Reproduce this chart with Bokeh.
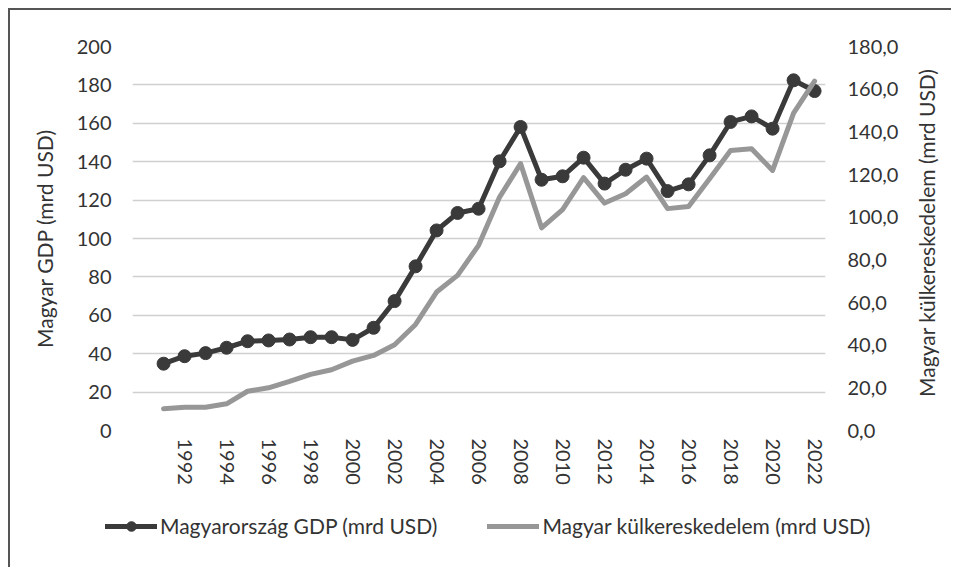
import math
from bokeh.plotting import figure
from bokeh.layouts import column, row
from bokeh.models import (Range1d, LinearAxis, FixedTicker, CustomJSTickFormatter,
                          Legend, LegendItem, Label)
from bokeh.embed import file_html
from bokeh.resources import INLINE

# ---- data ----
years = list(range(1991, 2023))
gdp = [34.8, 38.7, 40.3, 43.1, 46.5, 46.9, 47.4, 48.6, 48.6, 47.2,
       53.5, 67.4, 85.5, 104.2, 113.3, 115.5, 140.2, 158.1, 130.6, 132.4,
       142.1, 128.6, 135.8, 141.6, 124.7, 128.2, 143.3, 160.7, 163.6, 157.2,
       182.4, 176.8]
trade = [10.2, 10.9, 10.9, 12.5, 18.4, 20.0, 23.0, 26.3, 28.5, 32.5,
         35.2, 40.2, 49.7, 64.9, 72.7, 86.8, 109.4, 125.1, 95.0, 103.5,
         118.5, 106.6, 111.0, 118.8, 104.0, 105.0, 118.0, 131.3, 132.1, 121.9,
         148.8, 163.8]
x_ticks = list(range(1992, 2023, 2))
left_ticks = list(range(0, 201, 20))
right_ticks = list(range(0, 181, 20))
gdp_label = "Magyarország GDP (mrd USD)"
trade_label = "Magyar külkereskedelem (mrd USD)"
left_title = "Magyar GDP (mrd USD)"
right_title = "Magyar külkereskedelem (mrd USD)"

FONT = "Lato"
TXT = "#333333"
DARK = "#3a3a3a"
GRAY = "#979797"
BORDER = "2px solid #555555"

p = figure(width=903, height=490, output_backend="svg", toolbar_location=None,
           x_range=Range1d(1989.52, 2022.52), y_range=Range1d(0, 200),
           min_border_left=122, min_border_right=88, min_border_top=36,
           min_border_bottom=70, background_fill_color="white",
           border_fill_color="white")
p.styles = {"border-top": BORDER, "border-left": BORDER}
p.outline_line_color = None
p.extra_y_ranges = {"y2": Range1d(0, 180)}

# grid
p.xgrid.visible = False
p.ygrid.ticker = FixedTicker(ticks=left_ticks)
p.ygrid.grid_line_color = "#d0d0d0"
p.ygrid.grid_line_width = 1.5


def style_axis(ax, standoff):
    ax.axis_line_color = None
    ax.major_tick_line_color = None
    ax.minor_tick_line_color = None
    ax.major_tick_out = 0
    ax.major_tick_in = 0
    ax.minor_tick_out = 0
    ax.minor_tick_in = 0
    ax.major_label_standoff = standoff
    ax.major_label_text_font = FONT
    ax.major_label_text_font_size = "20px"
    ax.major_label_text_color = TXT


# x axis
xa = p.xaxis[0]
xa.ticker = FixedTicker(ticks=x_ticks)
xa.major_label_orientation = -math.pi / 2
style_axis(xa, 8)

# left axis
ya = p.yaxis[0]
ya.ticker = FixedTicker(ticks=left_ticks)
style_axis(ya, 21)
ya.axis_label = left_title
ya.axis_label_text_font = FONT
ya.axis_label_text_font_size = "21px"
ya.axis_label_text_font_style = "normal"
ya.axis_label_text_color = TXT
ya.axis_label_standoff = 17

# right axis (title drawn in the narrow strip to its right)
ra = LinearAxis(y_range_name="y2", ticker=FixedTicker(ticks=right_ticks),
                formatter=CustomJSTickFormatter(code="return tick.toFixed(1).replace('.', ',');"))
style_axis(ra, 22)
p.add_layout(ra, "right")

# series
gl = p.line(years, gdp, line_color=DARK, line_width=5, line_join="round", line_cap="round")
gs = p.scatter(years, gdp, size=13, fill_color=DARK, line_color=DARK)
tl = p.line(years, trade, y_range_name="y2", line_color=GRAY, line_width=5,
            line_join="round", line_cap="round")

# right title strip
rf = figure(width=40, height=490, output_backend="svg", toolbar_location=None,
            x_range=Range1d(0, 1), y_range=p.y_range,
            x_axis_location=None, y_axis_location=None,
            min_border_left=0, min_border_right=0, min_border_top=36, min_border_bottom=70,
            background_fill_color="white", border_fill_color="white")
rf.styles = {"border-top": BORDER}
rf.outline_line_color = None
rf.grid.visible = False
rf.add_layout(Label(x=0.37, y=(p.y_range.start + p.y_range.end) / 2 + 3, text=right_title,
                    angle=math.pi / 2, text_align="center", text_baseline="middle",
                    text_font=FONT, text_font_size="21px", text_color=TXT))

# legend strip (own figure; its line/scatter fall outside its ranges)
lf = figure(width=935, height=69, output_backend="svg", toolbar_location=None,
            x_range=Range1d(0, 1), y_range=Range1d(0, 1),
            x_axis_location=None, y_axis_location=None,
            min_border_left=0, min_border_right=0, min_border_top=0, min_border_bottom=0,
            background_fill_color="white", border_fill_color="white")
try:
    lf.frame_align = False
except Exception:
    pass
lf.styles = {"border-left": BORDER}
lf.outline_line_color = None
lf.grid.visible = False
lgl = lf.line(years, gdp, line_color=DARK, line_width=5, line_cap="round")
lgs = lf.scatter(years, gdp, size=13, fill_color=DARK, line_color=DARK)
ltl = lf.line(years, trade, line_color=GRAY, line_width=5, line_cap="round")

lg = Legend(items=[LegendItem(label=gdp_label, renderers=[lgl, lgs]),
                   LegendItem(label=trade_label, renderers=[ltl])],
            location=(95, 29), orientation="horizontal")
lg.margin = 0
lg.padding = 0
lg.spacing = 50
lg.border_line_color = None
lg.background_fill_alpha = 0
lg.glyph_width = 52
lg.glyph_height = 24
lg.label_height = 24
lg.label_width = 277
lg.label_standoff = 3
lg.label_text_font = FONT
lg.label_text_font_size = "21px"
lg.label_text_color = TXT
lf.add_layout(lg, "center")

layout = column(row(p, rf, spacing=0), lf, spacing=0)
layout.styles = {"margin-left": "8px", "margin-top": "8px"}

open("out.html", "w").write(file_html(layout, INLINE))
